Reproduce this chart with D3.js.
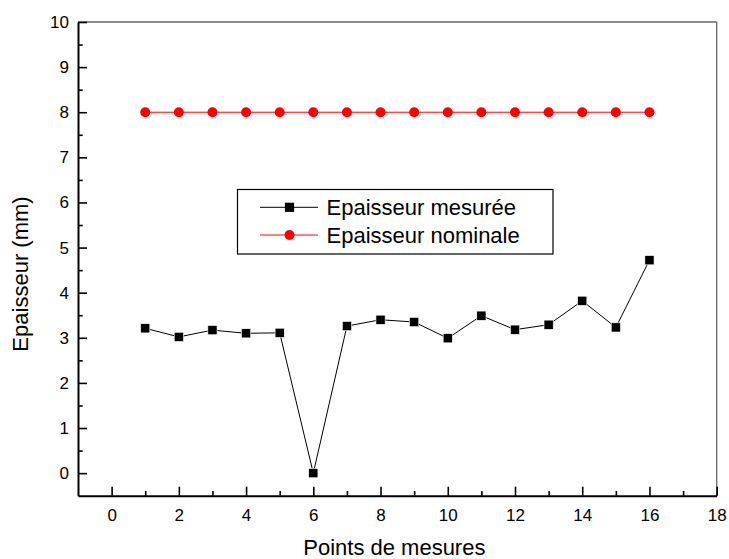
<!DOCTYPE html>
<html>
<head>
<meta charset="utf-8">
<script src="https://cdn.jsdelivr.net/npm/d3@7"></script>
<style>
  body { margin: 0; background: #fff; }
  text { font-family: "Liberation Sans", Arial, sans-serif; }
</style>
</head>
<body>
<div id="chart"></div>
<script>
// measurement points
var points = [1, 2, 3, 4, 5, 6, 7, 8, 9, 10, 11, 12, 13, 14, 15, 16];
var measured = [3.21, 3.02, 3.17, 3.10, 3.11, 0.0, 3.26, 3.40, 3.35, 2.99, 3.49, 3.18, 3.29, 3.82, 3.23, 4.72];
var nominal = [8, 8, 8, 8, 8, 8, 8, 8, 8, 8, 8, 8, 8, 8, 8, 8];
var xTicks = [0, 2, 4, 6, 8, 10, 12, 14, 16, 18];
var xMinor = [1, 3, 5, 7, 9, 11, 13, 15, 17];
var yTicks = [0, 1, 2, 3, 4, 5, 6, 7, 8, 9, 10];
var yMinor = [0.5, 1.5, 2.5, 3.5, 4.5, 5.5, 6.5, 7.5, 8.5, 9.5];
var seriesNames = ["Epaisseur mesurée", "Epaisseur nominale"];

var W = 729, H = 559;
var margin = { top: 22, right: 12.3, bottom: 63.3, left: 78 },
    width = W - margin.left - margin.right,
    height = H - margin.top - margin.bottom;

var svg = d3.select("#chart")
    .append("svg")
    .attr("width", W)
    .attr("height", H)
    .append("g")
    .attr("transform", "translate(" + margin.left + "," + margin.top + ")");

var x = d3.scaleLinear().domain([-1, 18]).range([0, width]);
var y = d3.scaleLinear().domain([-0.5, 10]).range([height, 0]);

// frame: top and right in grey
svg.append("line")
    .attr("x1", 0).attr("x2", width).attr("y1", 0).attr("y2", 0)
    .attr("stroke", "#666").attr("stroke-width", 1.3);
svg.append("line")
    .attr("x1", width).attr("x2", width).attr("y1", 0).attr("y2", height)
    .attr("stroke", "#666").attr("stroke-width", 1.3);

// X axis (ticks inside)
var gx = svg.append("g")
    .attr("transform", "translate(0," + height + ")")
    .call(d3.axisBottom(x).tickValues(xTicks).tickSize(-9).tickSizeOuter(0).tickPadding(13));
svg.append("g")
    .attr("transform", "translate(0," + height + ")")
    .call(d3.axisBottom(x).tickValues(xMinor).tickSize(-4.7).tickSizeOuter(0).tickFormat(""))
    .select(".domain").remove();

// Y axis (ticks inside)
var gy = svg.append("g")
    .call(d3.axisLeft(y).tickValues(yTicks).tickSize(-9).tickSizeOuter(0).tickPadding(9));
svg.append("g")
    .call(d3.axisLeft(y).tickValues(yMinor).tickSize(-4.7).tickSizeOuter(0).tickFormat(""))
    .select(".domain").remove();

svg.selectAll(".domain").attr("stroke", "#000").attr("stroke-width", 2);
svg.selectAll(".tick line").attr("stroke", "#000").attr("stroke-width", 1.6);
svg.selectAll(".tick text").style("font-size", "17px").attr("fill", "#000");

// axis titles
svg.append("text")
    .attr("x", x(8.5) - 3)
    .attr("y", H - margin.top - 4.5)
    .attr("text-anchor", "middle")
    .style("font-size", "22px")
    .text("Points de mesures");

svg.append("text")
    .attr("transform", "translate(" + (28 - margin.left) + "," + (274 - margin.top) + ")rotate(-90)")
    .attr("text-anchor", "middle")
    .style("font-size", "22px")
    .text("Epaisseur (mm)");

// nominal series
var line = d3.line()
    .x(function (d) { return x(d[0]); })
    .y(function (d) { return y(d[1]); });

svg.append("path")
    .datum(d3.zip(points, nominal))
    .attr("d", line)
    .attr("fill", "none")
    .attr("stroke", "#ff0000")
    .attr("stroke-width", 1);

svg.selectAll("circle.nom")
    .data(d3.zip(points, nominal))
    .enter()
    .append("circle")
    .attr("class", "nom")
    .attr("cx", function (d) { return x(d[0]); })
    .attr("cy", function (d) { return y(d[1]); })
    .attr("r", 5)
    .attr("fill", "#ff0000");

// measured series
svg.append("path")
    .datum(d3.zip(points, measured))
    .attr("d", line)
    .attr("fill", "none")
    .attr("stroke", "#000")
    .attr("stroke-width", 1);

svg.selectAll("rect.mes")
    .data(d3.zip(points, measured))
    .enter()
    .append("rect")
    .attr("class", "mes")
    .attr("x", function (d) { return x(d[0]) - 4.6; })
    .attr("y", function (d) { return y(d[1]) - 4.6; })
    .attr("width", 9.2)
    .attr("height", 9.2)
    .attr("fill", "#000")
    .attr("stroke", "#fff")
    .attr("stroke-width", 0.6);

// legend
var legend = svg.append("g")
    .attr("transform", "translate(" + (237.5 - margin.left) + "," + (189.5 - margin.top) + ")");

legend.append("rect")
    .attr("width", 315.5)
    .attr("height", 64.5)
    .attr("fill", "#fff")
    .attr("stroke", "#000")
    .attr("stroke-width", 1.2);

var rows = legend.selectAll("g.row")
    .data(seriesNames)
    .enter()
    .append("g")
    .attr("class", "row")
    .attr("transform", function (d, i) { return "translate(0," + (17.8 + i * 27.7) + ")"; });

rows.append("line")
    .attr("x1", 22.5).attr("x2", 80.5)
    .attr("stroke", function (d, i) { return i == 0 ? "#000" : "#ff0000"; })
    .attr("stroke-width", 1);

rows.filter(function (d, i) { return i == 0; })
    .append("rect")
    .attr("x", 52 - 4.6).attr("y", -4.6)
    .attr("width", 9.2).attr("height", 9.2)
    .attr("fill", "#000");

rows.filter(function (d, i) { return i == 1; })
    .append("circle")
    .attr("cx", 52).attr("cy", 0).attr("r", 5)
    .attr("fill", "#ff0000");

rows.append("text")
    .attr("x", 89)
    .attr("y", 7.8)
    .style("font-size", "22px")
    .text(function (d) { return d; });
</script>
</body>
</html>
